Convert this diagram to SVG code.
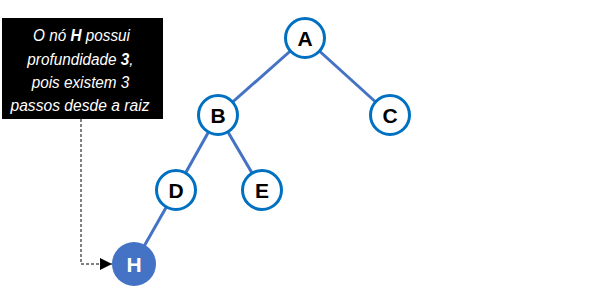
<svg xmlns="http://www.w3.org/2000/svg" width="590" height="300" viewBox="0 0 590 300">
<style>
.node circle{fill:#fff;stroke:#0070C0;stroke-width:3}
.node text{font-family:"Liberation Sans",Arial,sans-serif;font-weight:bold;font-size:21px;fill:#000;text-anchor:middle}
.edge{stroke:#4472C4;stroke-width:3;fill:none}
.note text{font-family:"Liberation Sans",Arial,sans-serif;font-style:italic;font-size:17px;fill:#fff;text-anchor:middle}
</style>
<defs>
<marker id="arr" markerWidth="13" markerHeight="12" refX="12" refY="6" orient="auto" markerUnits="userSpaceOnUse">
<path d="M0,0 L12,6 L0,12 z" fill="#000"/>
</marker>
</defs>
<rect width="590" height="300" fill="#fff"/>
<g id="connectors">
<line class="edge" x1="305" y1="38" x2="218" y2="115"/>
<line class="edge" x1="305" y1="38" x2="390" y2="115"/>
<line class="edge" x1="218" y1="115" x2="176" y2="190"/>
<line class="edge" x1="218" y1="115" x2="262" y2="190"/>
<line class="edge" x1="176" y1="190" x2="134" y2="264"/>
<path d="M81,119 V264 H112" stroke="#000" stroke-width="1" stroke-dasharray="3,2" fill="none" marker-end="url(#arr)"/>
</g>
<g id="note" class="note">
<rect x="2" y="18" width="161" height="101" fill="#000"/>
<text transform="translate(81.5,41) scale(0.9,1)">O nó <tspan font-weight="bold">H</tspan> possui</text>
<text transform="translate(80.5,64.5) scale(0.9,1)">profundidade <tspan font-weight="bold">3</tspan>,</text>
<text transform="translate(80.5,88) scale(0.9,1)">pois existem 3</text>
<text transform="translate(80,111) scale(0.92,1)">passos desde a raiz</text>
</g>
<g id="A" class="node"><circle cx="305" cy="38" r="19.5"/><text x="305" y="46">A</text></g>
<g id="B" class="node"><circle cx="218" cy="115" r="19.5"/><text x="218" y="123">B</text></g>
<g id="C" class="node"><circle cx="390" cy="115" r="19.5"/><text x="390" y="123">C</text></g>
<g id="D" class="node"><circle cx="176" cy="190" r="19.5"/><text x="176" y="198">D</text></g>
<g id="E" class="node"><circle cx="262" cy="190" r="19.5"/><text x="262" y="198">E</text></g>
<g id="H" class="node"><circle cx="134" cy="264" r="22" style="fill:#4472C4;stroke:none"/><text x="134" y="272" style="fill:#fff">H</text></g>
</svg>
